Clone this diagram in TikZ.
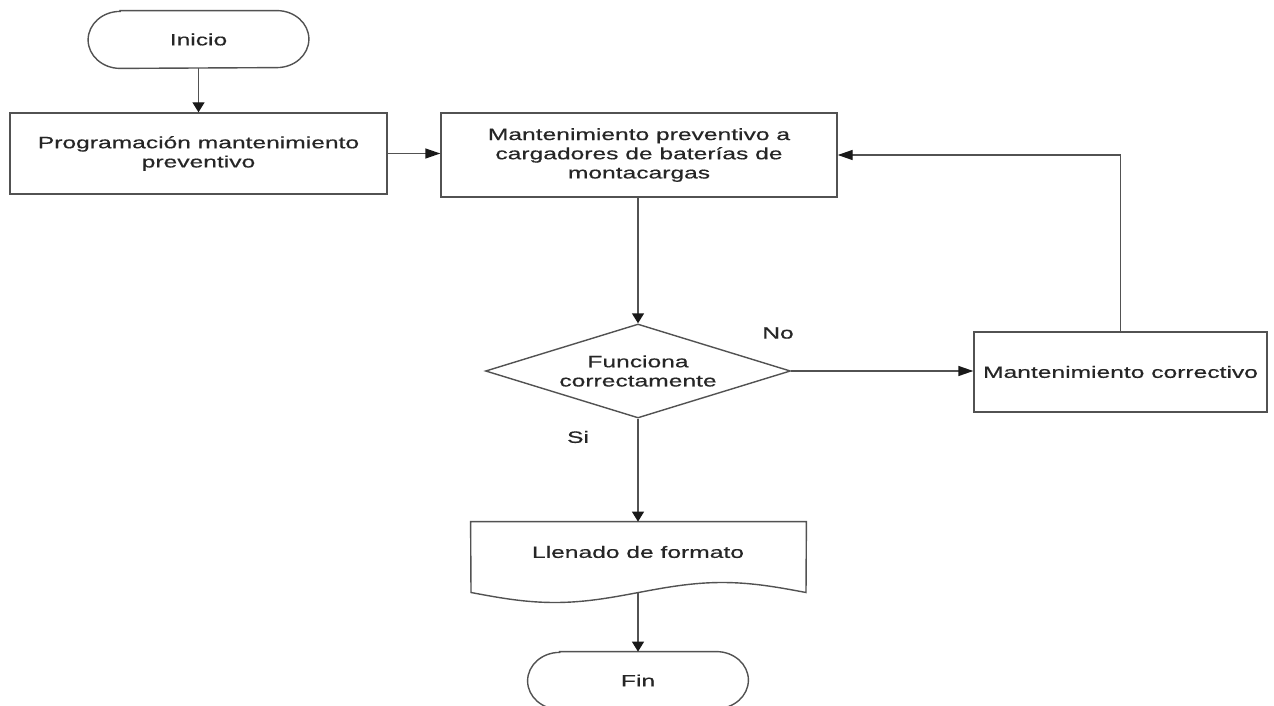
\documentclass[tikz,border=0pt]{standalone}
\usepackage{fontspec}
\setmainfont[FakeStretch=1.5,FakeBold=0.5]{Liberation Sans}
\usetikzlibrary{arrows.meta,shapes.geometric,calc}
\newcommand\termoutline[1]{%
  \draw[line] ($(#1.north west)+(32,0)$) -- ($(#1.north east)+(-32,0)$)
    arc[start angle=90,end angle=-90,x radius=16pt,y radius=14.25pt]
    -- ($(#1.south west)+(32,0)$)
    arc[start angle=270,end angle=90,x radius=16pt,y radius=14.25pt] -- cycle;}
\begin{document}
\begin{tikzpicture}[x=0.5pt,y=-0.5pt,
  line/.style={draw=black!68, line width=0.7pt},
  txt/.style={font=\fontsize{8.2}{9.6}\selectfont, text=black!85, align=center, inner sep=0pt},
  box/.style={txt, line, rectangle},
  term/.style={txt, rectangle, minimum width=110pt, minimum height=28.5pt},
  decision/.style={txt, line, diamond, aspect=3.2, minimum width=152.5pt, minimum height=47pt},
  harrow/.style={line, -{Triangle[length=7.5pt,width=5pt,color=black!90,fill=black!90]}},
  varrow/.style={line, -{Triangle[length=5pt,width=6pt,color=black!90,fill=black!90]}}
]
\useasboundingbox[fill=white] (0,0) rectangle (1274,706);

% nodes
\node[term] (inicio) at (198.5,39.5) {Inicio};
\termoutline{inicio}

\node[box, minimum width=188.5pt, minimum height=40.5pt] (prog) at (198.5,153.5)
  {Programación mantenimiento\\preventivo};

\node[box, minimum width=198pt, minimum height=42pt] (main) at (639,155)
  {Mantenimiento preventivo a\\cargadores de baterías de\\montacargas};

\node[decision] (dec) at (638,371) {Funciona\\correctamente};

\node[box, minimum width=146.5pt, minimum height=40pt] (corr) at (1120.5,372)
  {Mantenimiento correctivo};

\node[rectangle, inner sep=0pt, minimum width=167.5pt, minimum height=35.5pt] (doc) at (638.5,557.5) {};
\draw[line] (doc.north west) -- (doc.north east) -- (806,592.5)
  -- plot[domain=335:0, samples=80] ({471+\x},{592.5+10*sin(\x/335*360)}) -- cycle;
\node[txt] (doctext) at (638,552) {Llenado de formato};
\coordinate (docbot) at (638,592.5);

\node[term, minimum width=110pt] (fin) at (638,680.5) {Fin};
\termoutline{fin}

% labels
\node[txt] (no) at (778,333) {No};
\node[txt] (si) at (578,437) {Si};

% connectors
\draw[varrow] (inicio.south) -- (prog.north);
\draw[harrow] (prog.east) -- (prog.east -| main.west);
\draw[varrow] (main.south -| dec.north) -- (dec.north);
\draw[harrow] (dec.east) -- (corr.west |- dec.east);
\draw[harrow] (corr.north) |- (main.east);
\draw[varrow] (dec.south) -- (doc.north -| dec.south);
\draw[varrow] (docbot) -- (fin.north);
\end{tikzpicture}
\end{document}
